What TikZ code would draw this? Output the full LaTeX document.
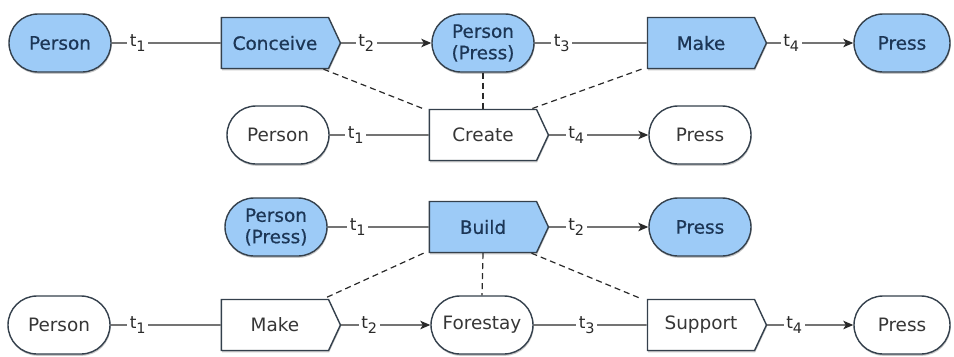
\documentclass[tikz,border=0pt]{standalone}
\usepackage{fontspec}
\setmainfont{DejaVu Sans}
\newfontfamily\hotfont[FakeBold=0.7]{DejaVu Sans}
\usetikzlibrary{shapes.misc,shapes.symbols,arrows.meta,shadows}
\definecolor{tblue}{HTML}{9DCBF7}
\definecolor{tedge}{HTML}{34404C}
\definecolor{tline}{HTML}{2A2A2A}
\definecolor{tbluetext}{HTML}{1C3656}
\definecolor{tgraytext}{HTML}{363636}
% transition label: t with a subscript index
\newcommand\tlab[1]{t\raisebox{-5.5bp}{\fontsize{14.5}{14.5}\selectfont #1}}
\begin{document}
\begin{tikzpicture}[x=1bp,y=-1bp,
  base/.style={draw=tedge, line width=1.4bp, font=\fontsize{18.5}{21.5}\selectfont,
    align=center, inner sep=0pt,
    drop shadow={shadow xshift=0.6bp, shadow yshift=-1.8bp, opacity=0.22, fill=black}},
  term/.style={base, rounded rectangle, minimum width=102bp, minimum height=58bp},
  proc/.style={base, signal, signal to=east, signal pointer angle=130,
    minimum width=119bp, minimum height=51bp},
  hot/.style={fill=tblue, text=tbluetext, font=\fontsize{18.5}{21.5}\hotfont},
  cold/.style={fill=white, text=tgraytext},
  flow/.style={draw=tline, line width=1.3bp},
  arr/.style={flow, -{Stealth[length=10bp,width=8.5bp,inset=2.5bp]}},
  link/.style={draw=tline, line width=1.2bp, dash pattern=on 6bp off 4bp},
  tl/.style={fill=white, inner xsep=2.5bp, inner ysep=0pt, text=tline,
    font=\fontsize{17}{17}\selectfont}
]
\useasboundingbox (0,0) rectangle (954,356);

% ---- row 1: detailed build process
\node[term,hot] (p1)  at (60,43)  {Person};
\node[proc,hot] (c1)  at (275,43) {Conceive};
\node[term,hot] (pp1) at (483,43) {Person\\(Press)};
\node[proc,hot] (m1)  at (701,43) {Make};
\node[term,hot,minimum width=96bp] (pr1) at (902,43) {Press};

% ---- row 2: summary process
\node[term,cold] (p2)  at (278,135) {Person};
\node[proc,cold] (cr)  at (483,135) {Create};
\node[term,cold] (pr2) at (700,135) {Press};

% ---- row 3: summary process
\node[term,hot] (pp3) at (276,227) {Person\\(Press)};
\node[proc,hot] (b3)  at (483,227) {Build};
\node[term,hot] (pr3) at (700,227) {Press};

% ---- row 4: detailed build process
\node[term,cold] (p4)  at (59,325)  {Person};
\node[proc,cold] (m4)  at (275,325) {Make};
\node[term,cold] (fs)  at (482,325) {Forestay};
\node[proc,cold] (su)  at (701,325) {Support};
\node[term,cold,minimum width=96bp] (pr4) at (902,325) {Press};

% ---- flows
\draw[flow] (p1) -- (c1)  node[tl,pos=0,xshift=26bp] {\tlab{1}};
\draw[arr]  (c1) -- (pp1) node[tl,pos=0,xshift=25bp] {\tlab{2}};
\draw[flow] (pp1) -- (m1) node[tl,pos=0,xshift=27bp] {\tlab{3}};
\draw[arr]  (m1) -- (pr1) node[tl,pos=0,xshift=24bp] {\tlab{4}};

\draw[flow] (p2) -- (cr)  node[tl,pos=0,xshift=26bp] {\tlab{1}};
\draw[arr]  (cr) -- (pr2) node[tl,pos=0,xshift=27bp] {\tlab{4}};

\draw[flow] (pp3) -- (b3) node[tl,pos=0,xshift=30bp] {\tlab{1}};
\draw[arr]  (b3) -- (pr3) node[tl,pos=0,xshift=27bp] {\tlab{2}};

\draw[flow] (p4) -- (m4)  node[tl,pos=0,xshift=27bp] {\tlab{1}};
\draw[arr]  (m4) -- (fs)  node[tl,pos=0,xshift=28bp] {\tlab{2}};
\draw[flow] (fs) -- (su)  node[tl,pos=0,xshift=53bp] {\tlab{3}};
\draw[arr]  (su) -- (pr4) node[tl,pos=0,xshift=27bp] {\tlab{4}};

% ---- refinement links between the levels
\draw[link] ([xshift=48.5bp]c1.south) -- ([xshift=-59.5bp]cr.north);
\draw[link] (pp1.south) -- (cr.north);
\draw[link] ([xshift=-59.5bp]m1.south) -- ([xshift=48.5bp]cr.north);

\draw[link] ([xshift=-59.5bp]b3.south) -- ([xshift=48.5bp]m4.north);
\draw[link] (b3.south) -- (fs.north);
\draw[link] ([xshift=48.5bp]b3.south) -- ([xshift=-59.5bp]su.north);
\end{tikzpicture}
\end{document}
